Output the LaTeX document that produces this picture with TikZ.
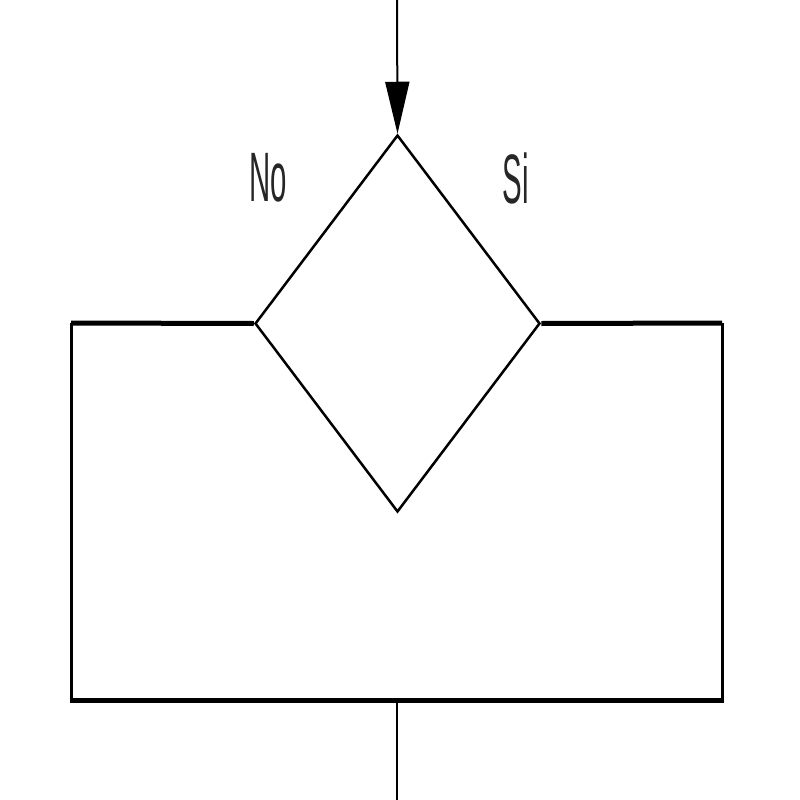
\documentclass[tikz,border=0pt]{standalone}
\usepackage{fontspec}
\setmainfont{Liberation Sans}
\usetikzlibrary{shapes.geometric,arrows.meta}
\begin{document}
\begin{tikzpicture}[x=1pt,y=-1pt,
  flow/.style={line width=2pt,black},
  hline/.style={line width=5pt,black},
  vline/.style={line width=3pt,black},
  lbl/.style={font=\fontsize{70}{70}\selectfont,xscale=0.42,inner sep=0,text=black!85}]
\useasboundingbox (0,0) rectangle (800,800);
\node[diamond,draw,line width=2.5pt,inner sep=0,minimum width=285pt,minimum height=377pt] (dec) at (397.5,323.5) {};
\coordinate (top) at (397,0);
\coordinate (bl) at (71,323);
\coordinate (br) at (722,323);
\coordinate (dl) at (71,700);
\coordinate (dr) at (722,700);
\coordinate (bm) at (397,700);
\coordinate (bot) at (397,800);
\draw[flow,-{Triangle[length=52pt,width=24pt]}] (top) -- (dec.north);
\draw[hline] (dec.west) -- (bl);
\draw[hline] (dec.east) -- (br);
\draw[vline] (bl) -- (dl);
\draw[vline] (br) -- (dr);
\draw[hline] ([xshift=-1.5pt]dl) -- ([xshift=1.5pt]dr);
\draw[flow] (bm) -- (bot);
\node[lbl] (no) at (268,178) {No};
\node[lbl] (si) at (516,178) {Si};
\end{tikzpicture}
\end{document}
